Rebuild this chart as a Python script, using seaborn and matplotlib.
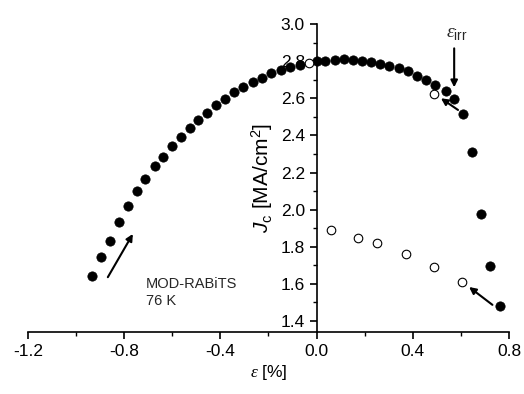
import matplotlib
matplotlib.use("Agg")
import matplotlib.pyplot as plt
import seaborn as sns
import pandas as pd
from matplotlib.ticker import MultipleLocator

sns.set_theme(style="ticks")
plt.rcParams['font.family'] = ['Liberation Sans', 'DejaVu Sans']
plt.rcParams['mathtext.fontset'] = 'custom'
plt.rcParams['mathtext.it'] = 'Liberation Sans:italic'
plt.rcParams['mathtext.rm'] = 'Liberation Sans'
plt.rcParams['mathtext.cal'] = 'Liberation Serif:italic'

# filled: increasing strain (before irreversible limit and beyond)
strain_filled = [-0.932, -0.895, -0.860, -0.820, -0.785, -0.746, -0.712, -0.673, -0.637,
                 -0.600, -0.564, -0.527, -0.493, -0.457, -0.419, -0.382, -0.343, -0.305,
                 -0.266, -0.227, -0.189, -0.150, -0.110, -0.071, 0.0, 0.037, 0.075,
                 0.112, 0.151, 0.188, 0.226, 0.264, 0.302, 0.341, 0.378, 0.417, 0.455,
                 0.494, 0.536, 0.572, 0.608, 0.645, 0.684, 0.721, 0.761]
jc_filled = [1.643, 1.747, 1.833, 1.934, 2.022, 2.099, 2.167, 2.234, 2.286,
             2.343, 2.393, 2.440, 2.481, 2.521, 2.564, 2.596, 2.632, 2.662,
             2.688, 2.711, 2.735, 2.751, 2.769, 2.781, 2.803, 2.803, 2.808,
             2.810, 2.806, 2.800, 2.797, 2.785, 2.774, 2.762, 2.745, 2.722, 2.700,
             2.672, 2.639, 2.598, 2.517, 2.309, 1.979, 1.697, 1.483]
# open: after unloading
strain_open = [-0.033, 0.489, 0.059, 0.174, 0.252, 0.370, 0.487, 0.605]
jc_open = [2.792, 2.621, 1.891, 1.849, 1.821, 1.760, 1.690, 1.609]

df_f = pd.DataFrame({"strain": strain_filled, "jc": jc_filled})
df_o = pd.DataFrame({"strain": strain_open, "jc": jc_open})

fig = plt.figure(figsize=(5.24, 3.94), dpi=100)
ax = fig.add_axes([0.0534, 0.158, 0.918, 0.781])

sns.scatterplot(data=df_f, x="strain", y="jc", ax=ax, s=45, color="black",
                edgecolor="black", linewidth=0.5, zorder=3)
sns.scatterplot(data=df_o, x="strain", y="jc", ax=ax, s=38, facecolor="white",
                edgecolor="black", linewidth=0.8, zorder=4)

ax.set_xlim(-1.2, 0.8)
ax.set_ylim(1.342, 3.0)
ax.xaxis.set_minor_locator(MultipleLocator(0.2))
ax.yaxis.set_minor_locator(MultipleLocator(0.1))
ax.set_yticks([1.4, 1.6, 1.8, 2.0, 2.2, 2.4, 2.6, 2.8, 3.0])
ax.set_xticks([-1.2, -0.8, -0.4, 0.0, 0.4, 0.8])
ax.set_xticklabels(["-1.2", "-0.8", "-0.4", "0.0", "0.4", "0.8"])

ax.spines['left'].set_position(('data', 0))
ax.spines['top'].set_visible(False)
ax.spines['right'].set_visible(False)
for s in ['left', 'bottom']:
    ax.spines[s].set_color('black')
    ax.spines[s].set_linewidth(1.2)

ax.tick_params(axis='both', which='major', direction='out', length=5, width=1.2,
               labelsize=12.5, colors='black')
ax.tick_params(axis='both', which='minor', direction='out', length=3, width=1.0,
               colors='black')

ax.set_xlabel(r"$\mathcal{ε}$ [%]", fontsize=12.5, color='black', labelpad=3)
ax.set_ylabel(r"$J_{\rm c}$ [MA/cm$^2$]", fontsize=15, color='black', labelpad=4)

ax.text(-0.71, 1.555, "MOD-RABiTS\n76 K", fontsize=10.5, ha='left', va='center',
        linespacing=1.25)

aprops = dict(arrowstyle='-|>', color='black', lw=1.5, mutation_scale=10,
              shrinkA=0, shrinkB=0)
ax.annotate("", xy=(-0.764, 1.869), xytext=(-0.868, 1.636), arrowprops=aprops)
ax.annotate("", xy=(0.572, 2.659), xytext=(0.572, 2.869), arrowprops=aprops)
ax.annotate("", xy=(0.517, 2.600), xytext=(0.588, 2.537), arrowprops=aprops)
ax.annotate("", xy=(0.634, 1.583), xytext=(0.731, 1.487), arrowprops=aprops)
ax.text(0.583, 2.95, r"$\mathcal{ε}_{\rm irr}$", fontsize=14, ha='center', va='center')

fig.savefig("out.png", dpi=100)
